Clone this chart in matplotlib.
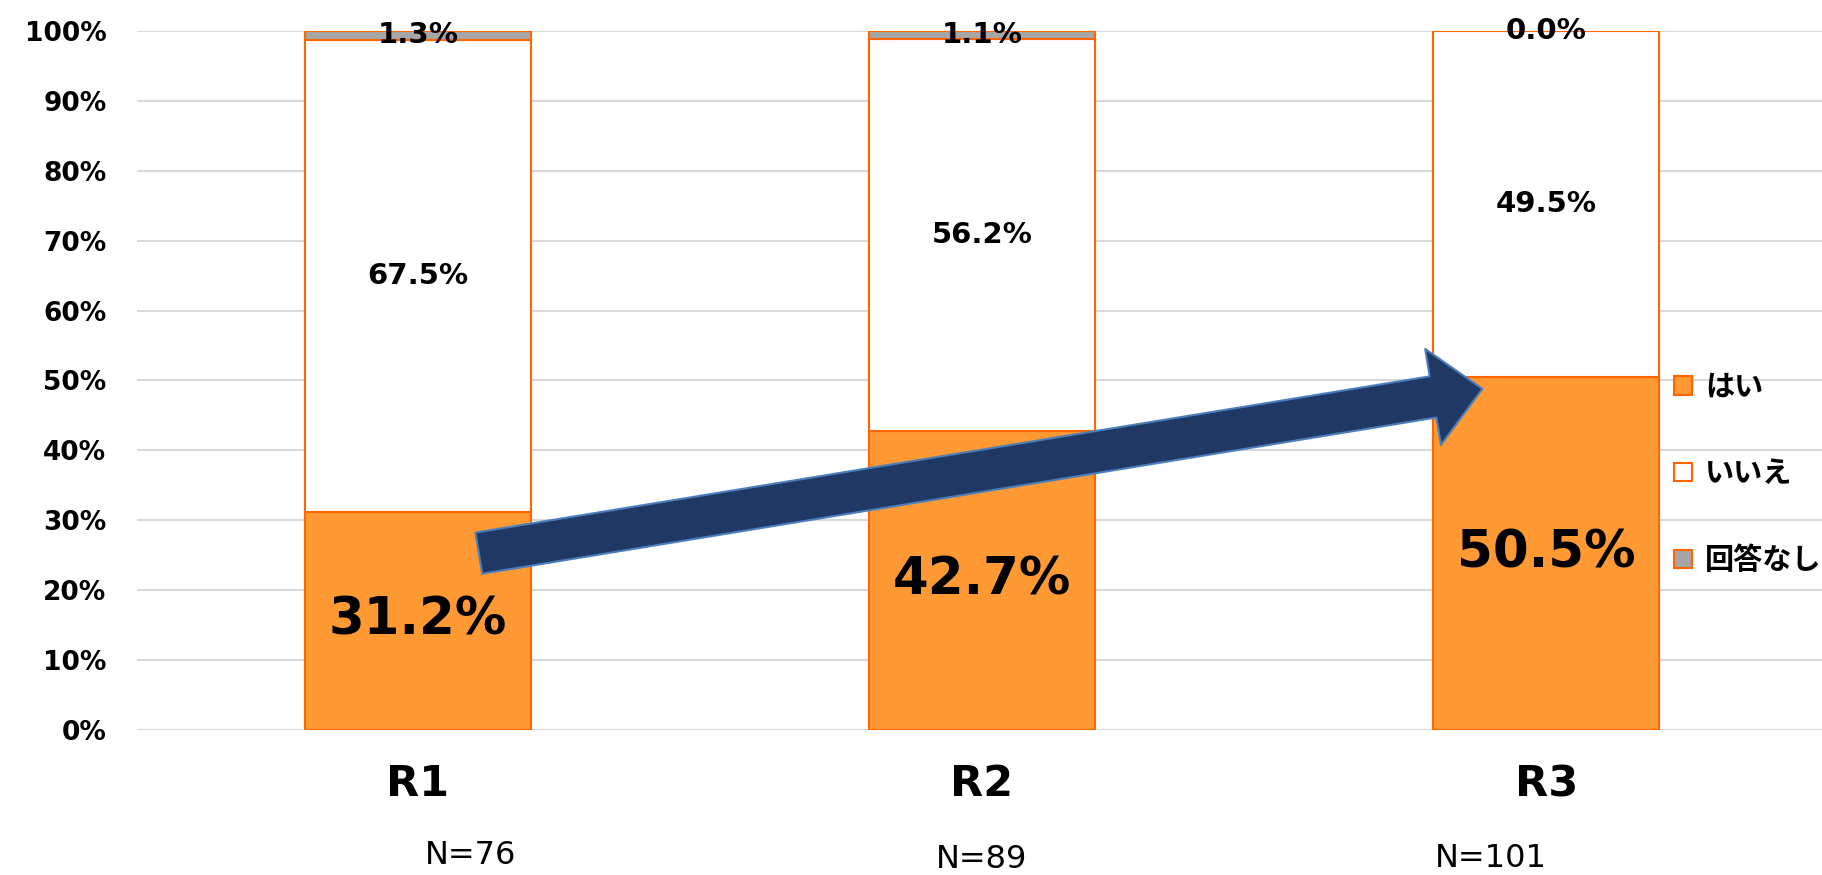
import matplotlib
matplotlib.use("Agg")
import matplotlib.pyplot as plt
import numpy as np

plt.rcParams['font.family'] = ['DejaVu Sans', 'Noto Sans CJK JP']

# === data ===
rounds = ["R1", "R2", "R3"]
yes_vals = [31.2, 42.7, 50.5]
no_vals = [67.5, 56.2, 49.5]
na_vals = [1.3, 1.1, 0.0]
series_names = ["はい", "いいえ", "回答なし"]
n_labels = ["N=76", "N=89", "N=101"]

# styles
orange = "#FF9933"
edge = "#FF6600"
gray = "#A6A6A6"
jp = ['Noto Sans CJK JP', 'DejaVu Sans']

fig = plt.figure(figsize=(18.22, 8.75), dpi=100)
ax = fig.add_axes([137/1822, 0.1657, 1 - 137/1822, 0.799])

x = np.arange(len(rounds))
w = 0.4
yes = np.array(yes_vals)
no = np.array(no_vals)
na = np.array(na_vals)

b1 = ax.bar(x, yes, w, color=orange, edgecolor=edge, linewidth=1.5, zorder=2)
b2 = ax.bar(x, no, w, bottom=yes, color="white", edgecolor=edge, linewidth=1.5, zorder=2)
b3 = ax.bar(x, na, w, bottom=yes + no, color=gray, edgecolor=edge, linewidth=1.5, zorder=2)

# value labels
for i in range(len(rounds)):
    ax.text(x[i], yes[i] / 2, f"{yes[i]:.1f}%", ha="center", va="center",
            fontsize=37, fontweight="bold", zorder=5)
    ax.text(x[i], yes[i] + no[i] / 2, f"{no[i]:.1f}%", ha="center", va="center",
            fontsize=21, fontweight="bold", zorder=5)
    ax.text(x[i], yes[i] + no[i] + na[i] / 2, f"{na[i]:.1f}%", ha="center", va="center",
            fontsize=21, fontweight="bold", zorder=5)

# trend arrow from R1 to R3
ax.annotate("", xy=(1.887, 48.8), xytext=(0.108, 25.3),
            arrowprops=dict(arrowstyle="simple,head_length=36,head_width=70,tail_width=30",
                            mutation_scale=1, shrinkA=0, shrinkB=0,
                            facecolor="#203864", edgecolor="#4A7EBB", linewidth=1.5),
            zorder=4)

ax.set_xlim(-0.498, 2.489)
ax.set_ylim(0, 100)
ax.set_yticks(np.arange(0, 101, 10))
ax.set_yticklabels([f"{v}%" for v in range(0, 101, 10)], fontsize=19, fontweight="bold")
ax.set_xticks(x)
ax.set_xticklabels(rounds, fontsize=31, fontweight="bold")
ax.tick_params(axis="x", length=0, pad=24)
ax.tick_params(axis="y", length=0, pad=22)
ax.grid(axis="y", color="#D9D9D9", linewidth=1.5, zorder=0)
ax.set_axisbelow(True)
for s in ax.spines.values():
    s.set_visible(False)

# sample sizes under the categories
n_x = [471 / 1822, 982 / 1822, 1491 / 1822]
n_y = [0.022, 0.018, 0.019]
for lab, nx, ny in zip(n_labels, n_x, n_y):
    fig.text(nx, ny, lab, ha="center", va="center", fontsize=23)

leg = fig.legend([b1, b2, b3], series_names, loc="upper left",
                 bbox_to_anchor=(0.911, 0.592), frameon=False,
                 handlelength=0.6, handleheight=0.6, handletextpad=0.45,
                 labelspacing=1.95, borderpad=0,
                 prop={"family": jp, "size": 21, "weight": "bold"})

fig.savefig("out.png", dpi=100)
